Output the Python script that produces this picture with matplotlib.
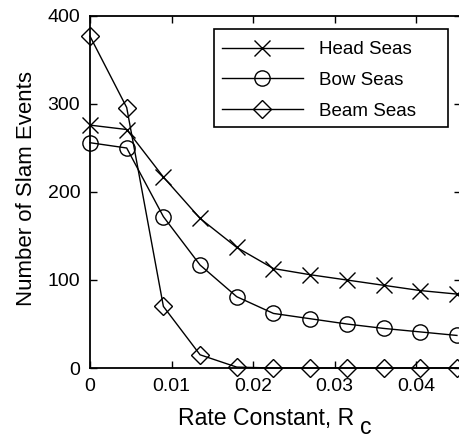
import matplotlib.pyplot as plt
from matplotlib.patches import Rectangle

plt.rcParams['font.family'] = ['Liberation Sans', 'DejaVu Sans']

# Data
rate = [0, 0.0045, 0.009, 0.0135, 0.018, 0.0225, 0.027, 0.0315, 0.036, 0.0405, 0.045]
head_seas = [276, 271, 217, 170, 137, 113, 106, 100, 94, 88, 84]
bow_seas = [256, 250, 172, 117, 81, 62, 56, 50, 45, 41, 37]
beam_seas = [377, 296, 70, 15, 1, 0, 0, 0, 0, 0, 0]

W, H = 460, 440
fig = plt.figure(figsize=(W / 100, H / 100), dpi=100)
ax = fig.add_axes([90/W, 72/H, 371/W, 352/H])

style = dict(color='black', linewidth=1.0, markerfacecolor='none',
             markeredgecolor='black', markeredgewidth=1.0, clip_on=False)
ax.plot(rate, head_seas, marker='x', markersize=11, label='Head Seas', **style)
ax.plot(rate, bow_seas, marker='o', markersize=11, label='Bow Seas', **style)
ax.plot(rate, beam_seas, marker='D', markersize=9, label='Beam Seas', **style)

ax.set_xlim(0, 0.0455)
ax.set_ylim(0, 400)
ax.set_xticks([0, 0.01, 0.02, 0.03, 0.04])
ax.set_xticklabels(['0', '0.01', '0.02', '0.03', '0.04'])
ax.set_yticks([0, 100, 200, 300, 400])

ax.tick_params(direction='in', top=True, right=True, length=5, width=1,
               labelsize=14, pad=7)
for s in ax.spines.values():
    s.set_linewidth(1.3)

# axis labels; the subscript c sits well below the baseline
fig.text(266/W, 1 - 425/H, 'Rate Constant, R', ha='center', va='baseline',
         fontsize=16.6)
fig.text(360/W, 1 - 434/H, 'c', ha='left', va='baseline', fontsize=16.6)
fig.text(26.5/W, 1 - 188/H, 'Number of Slam Events', rotation=90,
         ha='center', va='center', fontsize=16)

# legend box with wider right margin, drawn separately from the entries
box = Rectangle((0.334, 0.685), 0.631, 0.278, transform=ax.transAxes,
                facecolor='white', edgecolor='black', linewidth=1.2, zorder=4)
ax.add_patch(box)
leg = ax.legend(loc='upper left', bbox_to_anchor=(0.356, 0.929), fontsize=13.5,
                frameon=False, handlelength=4.3, handletextpad=0.85,
                borderpad=0, labelspacing=0.73, borderaxespad=0)
leg.set_zorder(5)

fig.savefig('out.png', dpi=100)
